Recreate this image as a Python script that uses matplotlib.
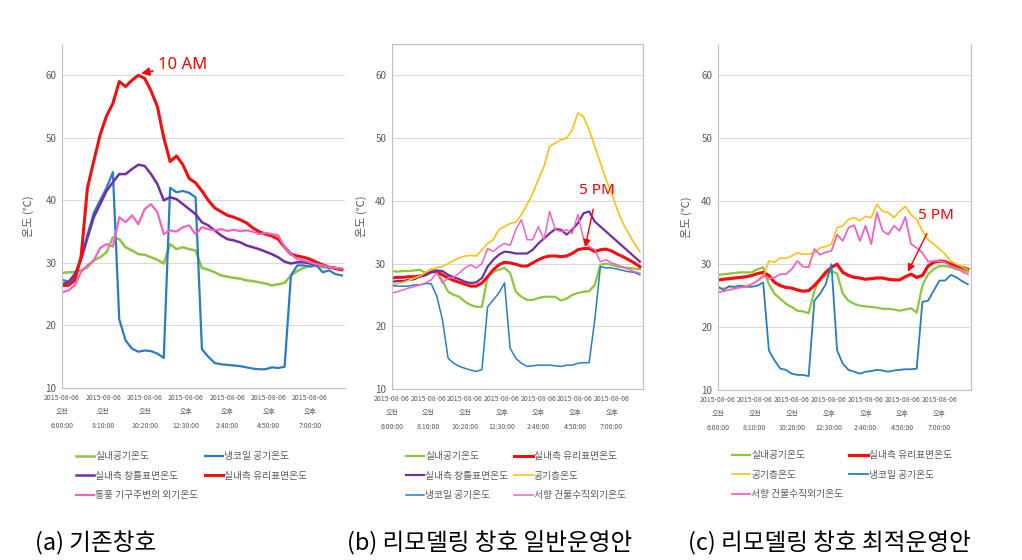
import numpy as np
import matplotlib
matplotlib.use('Agg')
import matplotlib.pyplot as plt

plt.rcParams['font.family'] = ['Noto Sans CJK KR', 'DejaVu Sans']

# time axis: minutes after 6:00, one reading every 20 min
minutes = list(range(0, 900, 20))
tick_minutes = [0, 130, 260, 390, 520, 650, 780]
tick_date = '2015-08-06'
tick_ampm = ['오전', '오전', '오전', '오후', '오후', '오후', '오후']
tick_clock = ['6:00:00', '8:10:00', '10:20:00', '12:30:00', '2:40:00', '4:50:00', '7:00:00']

# (a) 기존창호
a_room = [28.4, 28.5, 28.5, 28.8, 29.3, 30.4, 30.9, 31.7, 34.1, 33.8,
          32.5, 32.0, 31.4, 31.3, 30.9, 30.5, 29.9, 33.0, 32.2, 32.5,
          32.2, 32.0, 29.2, 28.9, 28.5, 28.0, 27.8, 27.6, 27.5, 27.2,
          27.1, 26.9, 26.7, 26.4, 26.6, 26.8, 28.0, 28.7, 29.2, 29.6,
          29.6, 29.3, 29.3, 29.2, 29.0]
a_coil = [27.3, 27.0, 27.6, 31.0, 34.5, 38.0, 40.0, 42.0, 44.5, 21.0,
          17.6, 16.3, 15.8, 16.0, 15.9, 15.5, 14.8, 42.0, 41.3, 41.5,
          41.2, 40.5, 16.2, 15.0, 14.0, 13.8, 13.7, 13.6, 13.5, 13.3,
          13.1, 13.0, 13.0, 13.3, 13.2, 13.4, 28.0, 29.6, 29.6, 29.4,
          29.6, 28.5, 28.8, 28.2, 28.0]
a_frame = [26.6, 26.9, 28.2, 30.5, 34.0, 37.3, 39.4, 41.5, 42.9, 44.2,
           44.2, 45.0, 45.7, 45.5, 44.2, 42.6, 40.0, 40.5, 40.2, 39.4,
           38.6, 37.8, 36.5, 36.0, 35.2, 34.4, 33.8, 33.6, 33.3, 32.8,
           32.5, 32.2, 31.8, 31.4, 30.9, 30.2, 29.9, 30.1, 30.1, 29.9,
           29.8, 29.6, 29.3, 29.2, 29.0]
a_glass = [26.4, 26.4, 27.2, 31.0, 42.0, 46.3, 50.5, 53.5, 55.5, 59.0,
           58.2, 59.2, 60.0, 59.5, 57.5, 55.0, 50.0, 46.2, 47.1, 45.7,
           43.5, 42.8, 41.5, 40.0, 38.8, 38.2, 37.6, 37.3, 36.9, 36.4,
           35.6, 35.0, 34.6, 34.3, 33.8, 32.5, 31.4, 31.1, 30.9, 30.6,
           30.1, 29.7, 29.3, 29.1, 28.9]
a_vent = [25.3, 25.6, 26.4, 28.6, 29.6, 30.4, 32.4, 33.0, 32.6, 37.3,
          36.5, 37.6, 36.2, 38.6, 39.4, 38.1, 34.6, 35.2, 35.0, 35.7,
          36.0, 34.6, 35.7, 35.4, 35.2, 35.4, 35.1, 35.3, 35.1, 35.2,
          35.0, 34.6, 34.8, 34.6, 34.4, 32.5, 31.4, 30.6, 30.4, 30.1,
          29.8, 29.6, 29.3, 29.2, 29.1]

# (b) 리모델링 창호 일반운영안
b_room = [28.8, 28.7, 28.8, 28.8, 28.9, 29.0, 28.5, 29.1, 28.9, 27.2,
          25.5, 25.0, 24.7, 23.9, 23.4, 23.1, 23.1, 27.9, 28.7, 29.0,
          29.3, 28.5, 25.5, 24.7, 24.2, 24.2, 24.5, 24.7, 24.7, 24.7,
          24.1, 24.4, 25.0, 25.3, 25.5, 25.6, 26.6, 29.8, 30.0, 29.8,
          29.5, 29.4, 29.3, 29.2, 29.1]
b_glass = [27.7, 27.8, 27.8, 27.9, 27.9, 28.0, 28.2, 28.7, 28.7, 28.2,
           27.7, 27.3, 27.0, 26.7, 26.4, 26.4, 26.9, 27.9, 29.0, 29.8,
           30.2, 30.1, 29.9, 29.6, 29.6, 30.1, 30.6, 31.0, 31.2, 31.2,
           31.1, 31.2, 31.6, 32.2, 32.4, 32.4, 31.9, 32.2, 32.3, 32.0,
           31.5, 31.1, 30.6, 30.1, 29.5]
b_frame = [27.1, 27.2, 27.2, 27.4, 27.5, 27.9, 28.2, 28.6, 28.9, 28.8,
           28.2, 27.8, 27.5, 27.1, 26.9, 27.0, 27.7, 29.5, 30.6, 31.4,
           31.9, 31.8, 31.6, 31.6, 31.6, 32.2, 33.2, 34.0, 34.8, 35.5,
           35.4, 34.6, 35.4, 36.4, 38.0, 38.3, 36.7, 35.9, 35.1, 34.3,
           33.5, 32.7, 31.9, 31.1, 30.3]
b_cavity = [26.6, 26.8, 27.0, 27.3, 27.7, 28.0, 28.6, 29.0, 29.4, 29.5,
            30.0, 30.5, 30.9, 31.2, 31.3, 31.2, 32.2, 33.2, 33.8, 35.4,
            35.9, 36.4, 36.6, 37.8, 39.4, 41.2, 43.4, 45.5, 48.7, 49.2,
            49.7, 50.0, 51.3, 54.0, 53.4, 51.3, 48.7, 46.0, 43.4, 41.2,
            38.6, 36.4, 34.8, 33.2, 31.9]
b_coil = [26.5, 26.4, 26.4, 26.4, 26.6, 26.6, 26.8, 26.8, 24.8, 21.0,
          14.9, 14.1, 13.6, 13.3, 13.0, 12.8, 13.1, 23.1, 24.2, 25.3,
          26.9, 16.5, 14.9, 14.1, 13.6, 13.7, 13.8, 13.8, 13.8, 13.7,
          13.6, 13.8, 13.8, 14.1, 14.2, 14.2, 21.0, 29.5, 29.3, 29.3,
          29.1, 28.9, 28.7, 28.6, 28.2]
b_west = [25.3, 25.5, 25.8, 26.1, 26.3, 26.6, 26.9, 27.4, 28.5, 26.9,
          27.7, 27.8, 28.5, 29.3, 29.8, 29.3, 30.0, 32.4, 31.9, 32.7,
          33.2, 32.9, 35.4, 37.0, 33.8, 33.8, 35.9, 33.8, 38.3, 35.4,
          35.1, 35.4, 34.8, 37.8, 34.0, 32.7, 32.2, 30.3, 30.6, 30.1,
          29.8, 29.4, 29.1, 28.7, 28.5]

# (c) 리모델링 창호 최적운영안
c_room = [28.3, 28.4, 28.5, 28.6, 28.7, 28.7, 28.7, 29.2, 29.5, 26.8,
          25.3, 24.5, 23.7, 23.2, 22.6, 22.5, 22.2, 25.8, 27.6, 28.2,
          28.9, 28.5, 25.3, 24.2, 23.7, 23.4, 23.3, 23.2, 23.1, 22.9,
          22.9, 22.8, 22.6, 22.8, 23.0, 22.3, 26.6, 28.4, 29.2, 29.7,
          29.7, 29.5, 29.2, 29.1, 28.8]
c_glass = [27.5, 27.6, 27.7, 27.8, 27.9, 28.0, 28.2, 28.5, 28.7, 28.2,
           27.1, 26.6, 26.3, 26.2, 25.9, 25.7, 25.8, 26.6, 27.6, 28.7,
           29.5, 30.0, 28.7, 28.2, 27.9, 27.8, 27.6, 27.7, 27.8, 27.8,
           27.6, 27.5, 27.5, 28.0, 28.4, 27.9, 28.2, 29.7, 30.3, 30.5,
           30.4, 30.0, 29.7, 29.5, 29.2]
c_cavity = [26.0, 26.2, 26.3, 26.4, 26.5, 26.6, 26.8, 27.3, 27.9, 30.5,
            30.3, 31.0, 30.9, 31.3, 31.8, 31.6, 31.6, 31.8, 32.6, 32.8,
            33.2, 35.8, 36.1, 37.1, 37.4, 36.9, 37.6, 37.4, 39.5, 38.4,
            38.2, 37.4, 38.4, 39.2, 37.9, 37.1, 35.3, 33.9, 33.2, 32.4,
            31.6, 30.5, 30.0, 29.6, 29.1]
c_coil = [26.5, 25.9, 26.5, 26.4, 26.6, 26.4, 26.4, 26.6, 27.1, 16.3,
          14.7, 13.4, 13.2, 12.6, 12.4, 12.4, 12.2, 24.2, 25.3, 26.8,
          30.0, 16.3, 14.2, 13.2, 12.9, 12.6, 12.9, 13.0, 13.2, 13.1,
          12.9, 13.1, 13.2, 13.3, 13.3, 13.4, 24.0, 24.2, 25.8, 27.4,
          27.4, 28.3, 27.9, 27.3, 26.8]
c_west = [25.5, 25.7, 25.9, 26.1, 26.3, 26.4, 26.8, 27.4, 28.2, 27.7,
          27.9, 28.4, 28.4, 29.2, 30.5, 29.6, 29.5, 32.4, 31.5, 31.9,
          32.1, 34.7, 33.7, 35.8, 36.2, 33.7, 36.1, 33.2, 38.2, 35.3,
          34.7, 36.1, 35.3, 37.5, 33.2, 32.6, 31.8, 30.4, 30.5, 30.5,
          30.3, 29.7, 29.4, 28.8, 28.4]

GREEN = '#8cc63f'
BLUE = '#2a7cc2'
PURPLE = '#7030a0'
RED = '#f01010'
PINK = '#f064c0'
YELLOW = '#f7c21a'
GRAY = '#595959'

fig = plt.figure(figsize=(10.22, 5.6), dpi=100)


def setup(ax, spines):
    ax.set_xlim(0, 890)
    ax.set_ylim(10, 65)
    ax.set_yticks(range(10, 61, 10))
    ax.grid(axis='y', color='#d9d9d9', lw=0.8)
    ax.set_axisbelow(True)
    for side in ['left', 'right', 'top', 'bottom']:
        ax.spines[side].set_visible(side in spines)
        ax.spines[side].set_color('#bfbfbf')
    ax.set_xticks(tick_minutes)
    ax.set_xticklabels([f'{tick_date}\n{p}\n{c}' for p, c in zip(tick_ampm, tick_clock)],
                       fontsize=5, color=GRAY, linespacing=2.0)
    ax.tick_params(axis='both', length=0, pad=4)
    ax.tick_params(axis='y', labelsize=7, labelcolor=GRAY)
    ax.set_ylabel('온도 (℃)', fontsize=8, color=GRAY)
    ax.yaxis.set_label_coords(-0.1, 0.5)


def legend(ax, handles, x, y):
    ax.legend(handles=handles, ncol=2, loc='upper left',
              bbox_to_anchor=(x / 1022, 1 - y / 560), bbox_transform=fig.transFigure,
              frameon=False, fontsize=7, labelcolor=GRAY, handlelength=1.9,
              handletextpad=0.1, columnspacing=0.6, labelspacing=1.0,
              borderpad=0, borderaxespad=0)


# (a)
ax1 = fig.add_axes([62 / 1022, 1 - 388 / 560, 283 / 1022, 344 / 560])
setup(ax1, ['left', 'bottom'])
h1 = ax1.plot(minutes, a_room, color=GREEN, lw=1.8, label='실내공기온도')[0]
h2 = ax1.plot(minutes, a_coil, color=BLUE, lw=1.6, label='냉코일 공기온도')[0]
h3 = ax1.plot(minutes, a_frame, color=PURPLE, lw=1.8, label='실내측 창틀표면온도')[0]
h4 = ax1.plot(minutes, a_glass, color=RED, lw=2.2, label='실내측 유리표면온도')[0]
h5 = ax1.plot(minutes, a_vent, color=PINK, lw=1.6, label='통풍 기구주변의 외기온도')[0]
legend(ax1, [h1, h3, h5, h2, h4], 76, 451)
ax1.annotate('10 AM', xy=(249, 60.3), xytext=(303, 61.7), color='red', fontsize=12,
             va='center', family=['Noto Sans', 'DejaVu Sans'],
             arrowprops=dict(arrowstyle='-|>', color='red', lw=1.2, mutation_scale=12,
                             shrinkA=2, shrinkB=0))

# (b)
ax2 = fig.add_axes([391.7 / 1022, 1 - 389 / 560, 251 / 1022, 345 / 560])
setup(ax2, ['left', 'bottom', 'right', 'top'])
g1 = ax2.plot(minutes, b_room, color=GREEN, lw=1.6, label='실내공기온도')[0]
g2 = ax2.plot(minutes, b_glass, color=RED, lw=2.2, label='실내측 유리표면온도')[0]
g3 = ax2.plot(minutes, b_frame, color=PURPLE, lw=1.6, label='실내측 창틀표면온도')[0]
g4 = ax2.plot(minutes, b_cavity, color=YELLOW, lw=1.2, label='공기층온도')[0]
g5 = ax2.plot(minutes, b_coil, color=BLUE, lw=1.1, label='냉코일 공기온도')[0]
g6 = ax2.plot(minutes, b_west, color=PINK, lw=1.1, label='서향 건물수직외기온도')[0]
legend(ax2, [g1, g3, g5, g2, g4, g6], 406, 451)
ax2.annotate('5 PM', xy=(686, 32.6), xytext=(728, 41.6), color='red', fontsize=11,
             ha='center', va='center', family=['Noto Sans', 'DejaVu Sans'],
             arrowprops=dict(arrowstyle='-|>', color='red', lw=1.0, mutation_scale=11,
                             shrinkA=6, shrinkB=0))

# (c)
ax3 = fig.add_axes([717.7 / 1022, 1 - 390 / 560, 253 / 1022, 346 / 560])
setup(ax3, ['left', 'bottom', 'right'])
k1 = ax3.plot(minutes, c_room, color=GREEN, lw=1.6, label='실내공기온도')[0]
k2 = ax3.plot(minutes, c_glass, color=RED, lw=2.3, label='실내측 유리표면온도')[0]
k3 = ax3.plot(minutes, c_cavity, color=YELLOW, lw=1.2, label='공기층온도')[0]
k4 = ax3.plot(minutes, c_coil, color=BLUE, lw=1.3, label='냉코일 공기온도')[0]
k5 = ax3.plot(minutes, c_west, color=PINK, lw=1.3, label='서향 건물수직외기온도')[0]
legend(ax3, [k1, k3, k5, k2, k4], 732, 450)
ax3.annotate('5 PM', xy=(669, 28.8), xytext=(767, 37.7), color='red', fontsize=11,
             ha='center', va='center', family=['Noto Sans', 'DejaVu Sans'],
             arrowprops=dict(arrowstyle='-|>', color='red', lw=1.0, mutation_scale=11,
                             shrinkA=6, shrinkB=0))

# captions
fig.text(35 / 1022, 1 - 543 / 560, '(a) 기존창호', fontsize=17, va='center')
fig.text(347 / 1022, 1 - 543 / 560, '(b) 리모델링 창호 일반운영안', fontsize=17, va='center')
fig.text(688 / 1022, 1 - 543 / 560, '(c) 리모델링 창호 최적운영안', fontsize=17, va='center')

fig.savefig('out.png', dpi=100)
